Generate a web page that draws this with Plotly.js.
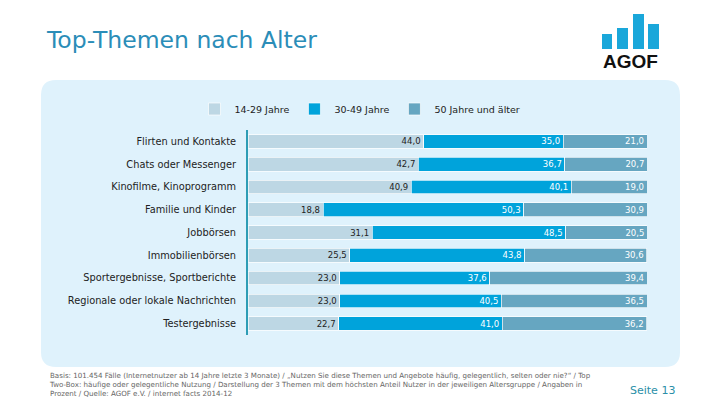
<!DOCTYPE html>
<html>
<head>
<meta charset="utf-8">
<script src="https://cdn.plot.ly/plotly-3.0.1.min.js"></script>
<style>
html,body{margin:0;padding:0;background:#ffffff;}
#chart{width:720px;height:405px;}
</style>
</head>
<body>
<div id="chart"></div>
<script>
// ---- data ----
const categories = [
  "Flirten und Kontakte",
  "Chats oder Messenger",
  "Kinofilme, Kinoprogramm",
  "Familie und Kinder",
  "Jobbörsen",
  "Immobilienbörsen",
  "Sportergebnisse, Sportberichte",
  "Regionale oder lokale Nachrichten",
  "Testergebnisse"
];
const seriesNames = ["14-29 Jahre", "30-49 Jahre", "50 Jahre und älter"];
const age14to29 = [44.0, 42.7, 40.9, 18.8, 31.1, 25.5, 23.0, 23.0, 22.7];
const age30to49 = [35.0, 36.7, 40.1, 50.3, 48.5, 43.8, 37.6, 40.5, 41.0];
const age50plus = [21.0, 20.7, 19.0, 30.9, 20.5, 30.6, 39.4, 36.5, 36.2];
const footnoteLines = [
  "Basis: 101.454 Fälle (Internetnutzer ab 14 Jahre letzte 3 Monate) / „Nutzen Sie diese Themen und Angebote häufig, gelegentlich, selten oder nie?“ / Top",
  "Two-Box: häufige oder gelegentliche Nutzung / Darstellung der 3 Themen mit dem höchsten Anteil Nutzer in der jeweiligen Altersgruppe / Angaben in",
  "Prozent / Quelle: AGOF e.V. / internet facts 2014-12"
];

// ---- geometry helpers (pixel -> paper) ----
const L = 248, R = 647, T = 130, B = 335;
const px = x => (x - L) / (R - L);
const py = y => (B - y) / (B - T);
const fmt = v => v.toFixed(1).replace('.', ',');

const colors = ["#BDD7E4", "#00A3DB", "#66A6C1"];
const textColors = ["#222222", "#ffffff", "#ffffff"];
const seriesValues = [age14to29, age30to49, age50plus];

const traces = seriesValues.map((vals, i) => ({
  type: 'bar',
  orientation: 'h',
  name: seriesNames[i],
  y: categories,
  x: vals,
  text: vals.map(fmt),
  textposition: 'inside',
  insidetextanchor: 'end',
  textangle: 0,
  constraintext: 'none',
  insidetextfont: {family: 'DejaVu Sans', size: 8.5, color: textColors[i]},
  marker: {color: colors[i], line: {color: 'rgba(255,255,255,0.85)', width: 0.8}},
  hoverinfo: 'skip'
}));

// rounded panel
const x0 = 41, x1 = 680, y0 = 80, y1 = 367, r = 15;
const panelPath = [
  `M${px(x0 + r)},${py(y0)}`,
  `L${px(x1 - r)},${py(y0)}`,
  `Q${px(x1)},${py(y0)} ${px(x1)},${py(y0 + r)}`,
  `L${px(x1)},${py(y1 - r)}`,
  `Q${px(x1)},${py(y1)} ${px(x1 - r)},${py(y1)}`,
  `L${px(x0 + r)},${py(y1)}`,
  `Q${px(x0)},${py(y1)} ${px(x0)},${py(y1 - r)}`,
  `L${px(x0)},${py(y0 + r)}`,
  `Q${px(x0)},${py(y0)} ${px(x0 + r)},${py(y0)}`,
  'Z'
].join(' ');

const shapes = [
  {type: 'path', xref: 'paper', yref: 'paper', path: panelPath,
   fillcolor: '#DFF2FC', line: {width: 0}, layer: 'below'}
];
// AGOF logo bars
const logoBars = [[602, 612, 34], [617, 628, 28], [633, 644, 14], [648, 659, 24]];
logoBars.forEach(b => shapes.push({
  type: 'rect', xref: 'paper', yref: 'paper',
  x0: px(b[0]), x1: px(b[1]), y0: py(49), y1: py(b[2]),
  fillcolor: '#1AA7DA', line: {width: 0}
}));

const annotations = [
  {xref: 'paper', yref: 'paper', x: px(630.5), y: py(62), xanchor: 'center', yanchor: 'middle',
   text: '<b>AGOF</b>', showarrow: false,
   font: {family: 'Liberation Sans', size: 19, color: '#111111'}},
  {xref: 'paper', yref: 'paper', x: px(47), y: py(369), xanchor: 'left', yanchor: 'top',
   text: footnoteLines.join('<br>'), align: 'left', showarrow: false,
   font: {family: 'DejaVu Sans', size: 7.1, color: '#666666'}},
  {xref: 'paper', yref: 'paper', x: px(652), y: py(390), xanchor: 'center', yanchor: 'middle',
   text: 'Seite 13', showarrow: false,
   font: {family: 'DejaVu Sans', size: 11, color: '#2A8FA8'}}
];

const layout = {
  width: 720, height: 405,
  margin: {l: L, r: 720 - R, t: T, b: 405 - B, pad: 0},
  paper_bgcolor: 'rgba(0,0,0,0)',
  plot_bgcolor: 'rgba(0,0,0,0)',
  barmode: 'stack',
  bargap: 0.4,
  title: {
    text: 'Top-Themen nach Alter',
    xref: 'container', yref: 'container',
    x: 47 / 720, y: 1 - 40 / 405, xanchor: 'left', yanchor: 'middle',
    font: {family: 'DejaVu Sans', size: 23.5, color: '#2B8DB8'}
  },
  xaxis: {range: [0, 100], visible: false, fixedrange: true},
  yaxis: {
    autorange: 'reversed',
    showline: true, linecolor: '#2E9DB5', linewidth: 2,
    showgrid: false, zeroline: false,
    ticks: 'outside', ticklen: 8, tickcolor: 'rgba(0,0,0,0)',
    tickfont: {family: 'DejaVu Sans', size: 9.8, color: '#222222'},
    fixedrange: true
  },
  showlegend: true,
  legend: {
    orientation: 'h', x: px(360), xanchor: 'center', y: py(109), yanchor: 'middle',
    font: {family: 'DejaVu Sans', size: 9.5, color: '#222222'},
    bgcolor: 'rgba(0,0,0,0)', itemwidth: 30, traceorder: 'normal'
  },
  shapes: shapes,
  annotations: annotations
};

Plotly.newPlot('chart', traces, layout, {staticPlot: true, displayModeBar: false});
</script>
</body>
</html>
